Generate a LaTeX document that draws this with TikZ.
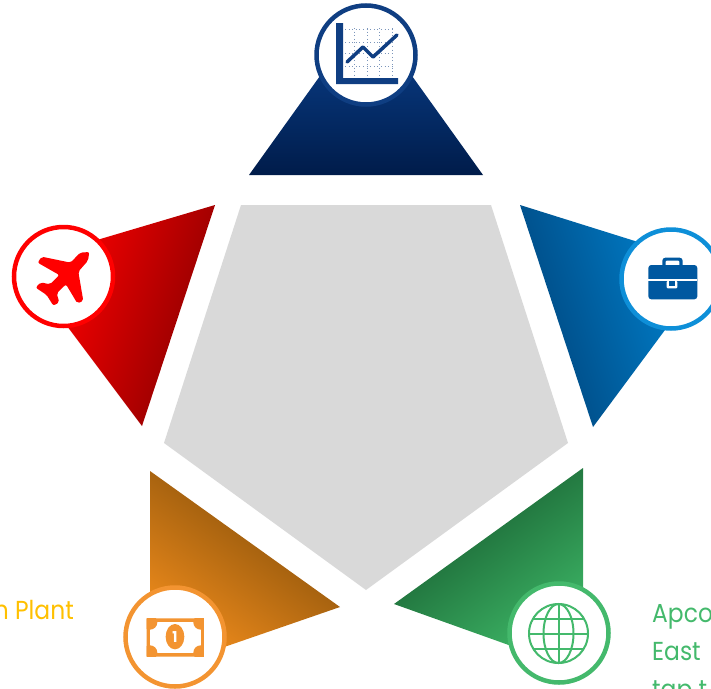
\documentclass[tikz,border=0pt]{standalone}
\usepackage{fontspec}
\setmainfont[FakeStretch=0.9]{Poppins}
\definecolor{navyring}{HTML}{0F3E82}
\definecolor{navydark}{HTML}{001C4A}
\definecolor{navylight}{HTML}{08387E}
\definecolor{redring}{HTML}{FF0000}
\definecolor{reddark}{HTML}{860000}
\definecolor{redlight}{HTML}{FA0000}
\definecolor{bluering}{HTML}{0E8FD8}
\definecolor{bluecase}{HTML}{0058A0}
\definecolor{bluedark}{HTML}{00437A}
\definecolor{bluelight}{HTML}{0080CC}
\definecolor{orangering}{HTML}{F39431}
\definecolor{orangedark}{HTML}{7C4A08}
\definecolor{orangelight}{HTML}{F08C1C}
\definecolor{greenring}{HTML}{44B96C}
\definecolor{greendark}{HTML}{14552B}
\definecolor{greenlight}{HTML}{3DB666}
\definecolor{plantyellow}{HTML}{FFC000}
\tikzset{>=latex}
\tikzset{
    badge/.style={circle, draw=#1, fill=white, line width=4.5pt, minimum size=99pt, inner sep=0pt},
    sidetext/.style={font=\fontsize{26}{30}\selectfont, inner sep=0pt, anchor=base west},
    globeline/.style={draw=greenring, line width=2pt},
    gridline/.style={navyring!55, line width=0.8pt, dash pattern=on 0.8pt off 2.8pt}
}

\begin{document}
\begin{tikzpicture}[x=1pt, y=-1pt]
    \useasboundingbox (0,0) rectangle (711,688);
    \clip (0,0) rectangle (711,688);

    % middle pentagon
    \fill[gray!30] (241,205) -- (491,205) -- (568,443) -- (366,590) -- (164,443) -- cycle;

    % five wedges, ends are hidden under the badges
    \shade[bottom color=navydark, top color=navylight, shading angle=0]
        (249,175) -- (330,62) -- (402,62) -- (483,175) -- cycle;
    \shade[bottom color=bluedark, top color=bluelight, shading angle=-72]
        (520,205) -- (670,252) -- (685,303) -- (593,427) -- cycle;
    \shade[bottom color=greendark, top color=greenlight, shading angle=-144]
        (583,468) -- (583,610) -- (559,663) -- (394,604) -- cycle;
    \shade[bottom color=orangedark, top color=orangelight, shading angle=144]
        (150,471) -- (150,610) -- (175,664) -- (340,607) -- cycle;
    \shade[bottom color=reddark, top color=redlight, shading angle=72]
        (215,205) -- (70,248) -- (55,310) -- (142,426) -- cycle;

    % badges
    \node[badge=navyring] (chart) at (366,55) {};
    \node[badge=bluering] (case) at (671,279) {};
    \node[badge=greenring] (globe) at (559,633) {};
    \node[badge=orangering] (money) at (175,637) {};
    \node[badge=redring] (plane) at (63.5,276.5) {};

    % chart icon
    \foreach \x in {354,367,379,392}
    {
        \draw[gridline] (\x,28) -- (\x,75);
    }
    \foreach \y in {29,42,53,66}
    {
        \draw[gridline] (345,\y) -- (395,\y);
    }
    \fill[navyring] (336,23) -- (343,23) -- (343,78) -- (398,78) -- (398,84) -- (336,84) -- cycle;
    \draw[navyring, line width=3.5pt, line cap=round, line join=round]
        (347,62) -- (363,47) -- (373,57) -- (397,35);

    % briefcase icon
    \begin{scope}[shift={(610,220)}, scale=0.3333]
        \fill[bluecase, rounded corners=3pt] (157,113) rectangle (218,150);
        \fill[white, rounded corners=1pt] (167,122) rectangle (208,150);
        \fill[bluecase, rounded corners=3pt] (115,135) rectangle (262,238);
        \fill[white] (115,178) rectangle (262,183);
        \fill[white, rounded corners=1pt] (170,183) rectangle (202,205);
        \fill[bluecase] (177,183) rectangle (195,198);
    \end{scope}

    % globe icon
    \begin{scope}[shift={(558.5,633.5)}]
        \draw[globeline] (0,0) circle [radius=29.5];
        \draw[globeline] (0,0) ellipse [x radius=15, y radius=29.5];
        \draw[globeline] (0,-29.5) -- (0,29.5);
        \draw[globeline] (-29.5,0) -- (29.5,0);
        \draw[globeline] (-25.4,-15) -- (25.4,-15);
        \draw[globeline] (-25.4,15) -- (25.4,15);
    \end{scope}

    % money icon
    \begin{scope}[shift={(0,575)}, scale=0.3333]
        \fill[orangering, rounded corners=1pt] (440,130) rectangle (612,245);
        \fill[white] (450,142) rectangle (602,233);
        \begin{scope}
            \clip (440,130) rectangle (612,245);
            \foreach \x in {450,602}
            {
                \foreach \y in {142,233}
                {
                    \fill[orangering] (\x,\y) circle [radius=22];
                }
            }
        \end{scope}
        \fill[orangering] (525,185) ellipse [x radius=28, y radius=38];
    \end{scope}
    \node[text=white, inner sep=0pt, font=\fontsize{15}{15}\selectfont\bfseries] (one) at (175,637) {1};

    % plane icon
    \begin{scope}[shift={(0,215)}, scale=0.3333]
        \fill[redring, rounded corners=2pt] (268,111) -- (240,113) -- (212,143) -- (125,125) -- (113,143)
            -- (178,180) -- (150,208) -- (122,202) -- (107,218) -- (140,240) -- (160,272) -- (178,262)
            -- (170,235) -- (198,208) -- (232,265) -- (250,258) -- (235,170) -- (264,137) -- cycle;
    \end{scope}

    % text cut off by the page
    \node[sidetext, anchor=base east, text=plantyellow] (plant) at (74,619) {n Plant};
    \node[sidetext, text=greenring] (apco) at (652,622) {Apco};
    \node[sidetext, text=greenring] (east) at (652,660) {East};
    \node[sidetext, text=greenring] (tap) at (652,698) {tap t};
\end{tikzpicture}
\end{document}
